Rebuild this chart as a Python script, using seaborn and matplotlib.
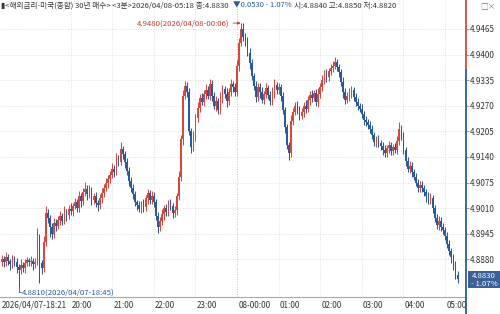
import numpy as np
import pandas as pd
import seaborn as sns
import matplotlib
matplotlib.use("Agg")
import matplotlib.pyplot as plt
from matplotlib.lines import Line2D
from matplotlib.patches import Rectangle
from matplotlib.transforms import blended_transform_factory

# ---------------- data (3-minute candles, 2026/04/07 18:21 -> 2026/04/08 05:18) -------------
first_open = 4.8872
closes = [
    4.8880, 4.8872, 4.8885, 4.8876, 4.8868, 4.8880, 4.8874, 4.8860, 4.8852, 4.8866,
    4.8858, 4.8870, 4.8878, 4.8872, 4.8876, 4.8868, 4.8874, 4.8935, 4.8870, 4.8858,
    4.8925, 4.8998, 4.8985, 4.8962, 4.8945, 4.8972, 4.8965, 4.8980, 4.8990, 4.8978,
    4.9000, 4.8992, 4.9008, 4.9002, 4.9015, 4.9025, 4.9010, 4.9040, 4.9028, 4.9050,
    4.9058, 4.9045, 4.9055, 4.9030, 4.9040, 4.9022, 4.9018, 4.9035, 4.9048, 4.9062,
    4.9075, 4.9085, 4.9095, 4.9110, 4.9102, 4.9135, 4.9128, 4.9160, 4.9148, 4.9128,
    4.9105, 4.9080, 4.9060, 4.9045, 4.9025, 4.9018, 4.9008, 4.9020, 4.9012, 4.9035,
    4.9048, 4.9030, 4.9042, 4.9025, 4.8990, 4.8962, 4.8978, 4.8995, 4.9010, 4.9000,
    4.9022, 4.9015, 4.8998, 4.9005, 4.9040, 4.9090, 4.9185, 4.9295, 4.9320, 4.9305,
    4.9205, 4.9165, 4.9195, 4.9238, 4.9265, 4.9290, 4.9280, 4.9300, 4.9310, 4.9295,
    4.9325, 4.9295, 4.9270, 4.9282, 4.9258, 4.9290, 4.9312, 4.9300, 4.9282, 4.9305,
    4.9325, 4.9318, 4.9305, 4.9372, 4.9430, 4.9465, 4.9445, 4.9435, 4.9405, 4.9378,
    4.9345, 4.9320, 4.9292, 4.9318, 4.9305, 4.9285, 4.9300, 4.9315, 4.9298, 4.9282,
    4.9305, 4.9322, 4.9310, 4.9318, 4.9295, 4.9258, 4.9215, 4.9170, 4.9150, 4.9232,
    4.9255, 4.9270, 4.9262, 4.9245, 4.9255, 4.9270, 4.9262, 4.9285, 4.9298, 4.9290,
    4.9302, 4.9280, 4.9300, 4.9318, 4.9335, 4.9350, 4.9342, 4.9358, 4.9365, 4.9372,
    4.9380, 4.9368, 4.9355, 4.9330, 4.9305, 4.9285, 4.9295, 4.9300, 4.9310, 4.9292,
    4.9280, 4.9270, 4.9262, 4.9248, 4.9235, 4.9228, 4.9222, 4.9212, 4.9195, 4.9178,
    4.9185, 4.9175, 4.9168, 4.9158, 4.9150, 4.9162, 4.9170, 4.9155, 4.9165, 4.9158,
    4.9180, 4.9212, 4.9195, 4.9158, 4.9130, 4.9110, 4.9118, 4.9102, 4.9090, 4.9075,
    4.9060, 4.9068, 4.9062, 4.9050, 4.9040, 4.9030, 4.9035, 4.9010, 4.8985, 4.8968,
    4.8978, 4.8962, 4.8955, 4.8940, 4.8918, 4.8900, 4.8885, 4.8866, 4.8840, 4.8830,
]
# wick extensions above / below the body, in units of 0.0001
upper_wick = [
    10, 8, 14, 9, 6, 12, 8, 10, 9, 14, 8, 12, 9, 6, 12, 8, 10, 25, 10, 8,
    14, 18, 10, 8, 9, 14, 10, 9, 12, 8, 16, 9, 10, 14, 8, 10, 9, 14, 8, 12,
    18, 10, 14, 9, 8, 12, 9, 10, 14, 9, 12, 8, 10, 14, 9, 16, 10, 18, 9, 8,
    10, 9, 8, 12, 9, 6, 10, 9, 14, 8, 10, 9, 12, 8, 9, 10, 9, 14, 8, 10,
    9, 12, 8, 10, 9, 14, 12, 14, 12, 10, 9, 8, 12, 10, 14, 9, 12, 10, 16, 9,
    14, 10, 9, 12, 8, 16, 10, 9, 14, 10, 12, 9, 10, 14, 12, 15, 14, 10, 9, 12,
    10, 9, 14, 10, 9, 12, 8, 14, 9, 10, 12, 16, 9, 10, 8, 9, 10, 8, 9, 14,
    10, 9, 12, 8, 10, 9, 14, 9, 10, 12, 9, 10, 14, 9, 12, 10, 14, 9, 10, 12,
    14, 10, 9, 8, 12, 9, 10, 14, 9, 8, 10, 9, 8, 12, 9, 10, 8, 9, 10, 8,
    9, 10, 8, 9, 12, 9, 10, 8, 9, 10, 14, 18, 10, 9, 8, 10, 12, 9, 8, 10,
    9, 12, 10, 8, 9, 10, 14, 9, 8, 10, 12, 9, 10, 8, 9, 10, 8, 9, 10, 10,
]
lower_wick = [
    9, 12, 8, 10, 14, 9, 10, 14, 42, 10, 9, 12, 8, 10, 9, 14, 10, 8, 50, 16,
    9, 10, 14, 25, 14, 10, 14, 9, 12, 10, 9, 14, 10, 9, 12, 8, 10, 9, 14, 10,
    9, 14, 10, 12, 9, 10, 16, 9, 12, 10, 9, 14, 10, 8, 12, 9, 10, 9, 14, 16,
    10, 14, 9, 12, 10, 14, 9, 10, 12, 9, 14, 10, 9, 12, 10, 14, 9, 10, 14, 9,
    10, 9, 14, 10, 12, 9, 10, 14, 9, 12, 10, 16, 9, 14, 10, 12, 9, 10, 14, 9,
    10, 12, 9, 14, 10, 9, 12, 10, 14, 9, 10, 12, 9, 10, 14, 9, 10, 12, 9, 14,
    10, 9, 12, 10, 14, 9, 10, 9, 12, 10, 9, 14, 10, 9, 12, 10, 14, 10, 18, 9,
    10, 9, 12, 10, 9, 14, 10, 9, 12, 10, 9, 10, 12, 9, 10, 9, 12, 10, 9, 10,
    9, 10, 12, 9, 14, 10, 9, 12, 10, 9, 10, 12, 9, 10, 14, 9, 10, 12, 9, 10,
    12, 9, 10, 14, 9, 10, 12, 9, 10, 9, 10, 9, 12, 10, 14, 9, 10, 12, 9, 10,
    10, 9, 12, 10, 14, 9, 10, 12, 9, 10, 14, 9, 10, 12, 9, 10, 14, 12, 10, 10,
]
hour_labels = ["2026/04/07-18:21", "20:00", "21:00", "22:00", "23:00", "08-00:00",
               "01:00", "02:00", "03:00", "04:00", "05:00"]
hour_candle_index = [0, 33, 53, 73, 93, 113, 133, 153, 173, 193, 213]
y_ticks = [4.8880, 4.8945, 4.9010, 4.9075, 4.9140, 4.9205, 4.9270, 4.9335, 4.9400, 4.9465]
prev_close = 4.9360
last_price = 4.8830
high_point = (115, 4.9480, "4.9480(2026/04/08-00:06)")
low_point = (8, 4.8810, "4.8810(2026/04/07-18:45)")
header_main = "▮<해외금리-미국(종합) 30년 매수> <3분>2026/04/08-05:18 종:4.8830"
header_change = "▼0.0530 - 1.07%"
header_ohlc = "시:4.8840 고:4.8850 저:4.8820"

# ---------------- frame ----------------
opens = [first_open] + closes[:-1]
df = pd.DataFrame({"open": opens, "close": closes,
                   "up": upper_wick, "lo": lower_wick})
df["idx"] = np.arange(len(df))
df["top"] = df[["open", "close"]].max(axis=1)
df["bot"] = df[["open", "close"]].min(axis=1)
df["high"] = df["top"] + df["up"] * 1e-4
df["low"] = df["bot"] - df["lo"] * 1e-4
RED, BLUE = "#d9473c", "#2b5a9c"
df["color"] = np.where(df["close"] >= df["open"], RED, BLUE)

sns.set_theme(style="white")
plt.rcParams["font.family"] = ["Noto Sans CJK KR", "DejaVu Sans"]

W, H = 500, 314
fig = plt.figure(figsize=(5, 3.14), dpi=100)
fig.patch.set_facecolor("white")
ax = fig.add_axes([0, 1 - 297 / H, 466 / W, 297 / H])

PPU = 0.000254  # price per pixel
ax.set_ylim(4.9465 - (297 - 29) * PPU, 4.9465 + 29 * PPU)
ax.set_xlim(-0.96, -0.96 + 466 / 2.08)

# grid
for yv in y_ticks:
    ax.axhline(yv, color="#d4d4d4", lw=0.6, ls=(0, (1, 2)), zorder=0)
for k, hi in enumerate(hour_candle_index[1:]):
    c = "#d9a0a0" if hour_labels[k + 1] == "08-00:00" else "#d4d4d4"
    ax.axvline(hi, color=c, lw=0.6, ls=(0, (1, 2)), zorder=0)

# candles
ax.vlines(df["idx"], df["low"], df["high"], colors=df["color"], lw=0.75, zorder=2)
heights = np.maximum(df["top"] - df["bot"], 0.00008)
ax.bar(df["idx"], heights, bottom=df["bot"], width=0.8, color=df["color"],
       linewidth=0, zorder=3)

# axes styling
for s in ["left", "top", "right"]:
    ax.spines[s].set_visible(False)
ax.spines["bottom"].set_color("#a8a8a8")
ax.spines["bottom"].set_linewidth(0.8)
ax.yaxis.tick_right()
ax.set_yticks(y_ticks)
ax.set_yticklabels([f"{v:.4f}" for v in y_ticks])
ax.tick_params(axis="y", length=2.5, width=0.6, color="#888888", labelsize=5.8,
               labelcolor="#333333", pad=0.5)
ax.set_xticks([-0.96] + hour_candle_index[1:])
ax.set_xticklabels([])
ax.tick_params(axis="x", length=9, width=0.6, color="#b0b0b0", direction="out")
for lab, hi in zip(hour_labels, [-0.96] + hour_candle_index[1:]):
    ax.text(hi + 0.6, -0.028, lab, transform=blended_transform_factory(ax.transData, ax.transAxes),
            ha="left", va="center", fontsize=5.8, color="#333333")

# right axis line: red above previous close, blue below
xr = 466 / W
yp = 1 - (29 + (4.9465 - prev_close) / PPU) / H
fig.add_artist(Line2D([xr, xr], [yp, 1], color=RED, lw=1.3))
fig.add_artist(Line2D([xr, xr], [0, yp], color=BLUE, lw=1.3))

# current price box
fig.add_artist(Rectangle((467.5 / W, 1 - 288 / H), 32.5 / W, 17 / H, transform=fig.transFigure,
                         facecolor="#3d5f97", edgecolor="none"))
fig.text(484 / W, 1 - 275.5 / H, f"{last_price:.4f}", ha="center", va="center",
         fontsize=5.6, color="white")
fig.text(484 / W, 1 - 283.5 / H, "- 1.07%", ha="center", va="center",
         fontsize=5.6, color="white")

# high / low annotations
hx, hy, htxt = high_point
ax.annotate(htxt, xy=(hx - 0.3, hy), xytext=(hx - 5.5, hy), ha="right", va="center",
            fontsize=5.6, color="#c0392b",
            arrowprops=dict(arrowstyle="-|>", color="#c0392b", lw=0.6,
                            mutation_scale=4, shrinkA=0, shrinkB=0))
lx, ly, ltxt = low_point
ybot = ly - 5.5 * PPU
ax.plot([lx, lx, lx + 1.3], [ly, ybot, ybot], color=BLUE, lw=0.6, zorder=4)
ax.text(lx + 1.5, ybot, ltxt, ha="left", va="center", fontsize=5.6, color=BLUE)

# header
fig.text(1 / W, 1 - 6 / H, header_main, ha="left", va="center", fontsize=5.5, color="#333333")
fig.text(233 / W, 1 - 6 / H, header_change, ha="left", va="center", fontsize=5.5, color="#2b5a9c")
fig.text(294 / W, 1 - 6 / H, header_ohlc, ha="left", va="center", fontsize=5.5, color="#333333")
fig.text(480 / W, 1 - 6 / H, "□×", ha="left", va="center", fontsize=5.5, color="#777777")

fig.savefig("out.png", dpi=100, facecolor="white")
